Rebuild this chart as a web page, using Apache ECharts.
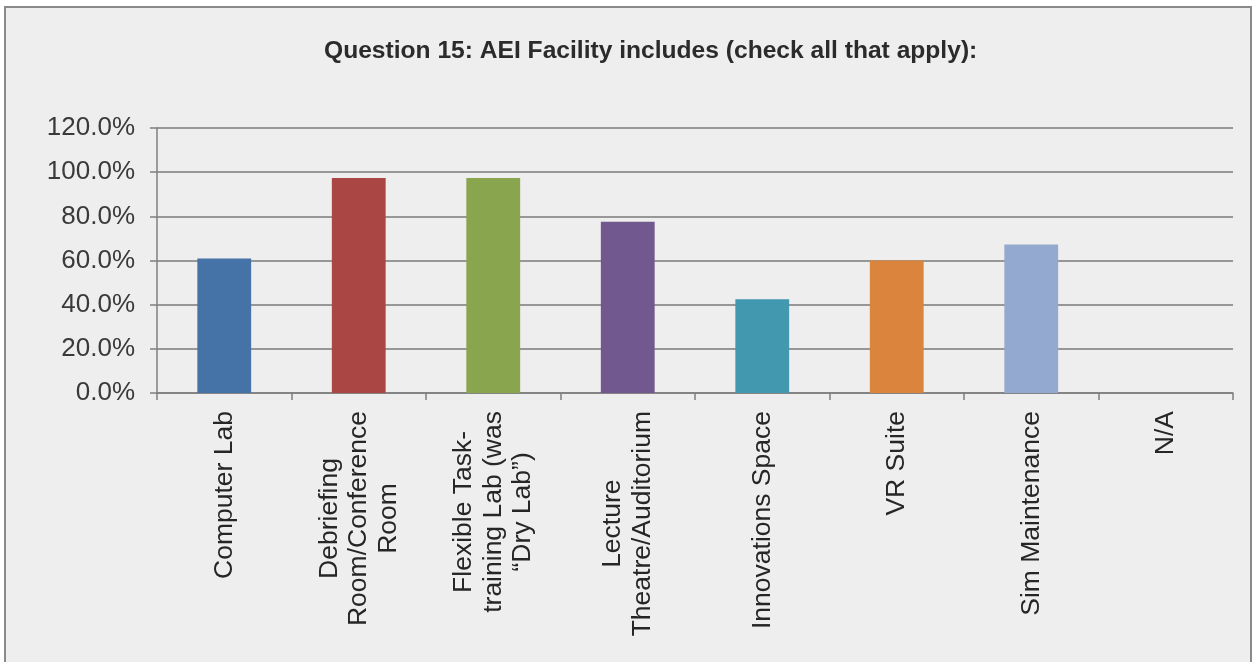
<!DOCTYPE html>
<html>
<head>
<meta charset="utf-8">
<script src="https://cdn.jsdelivr.net/npm/echarts@6/dist/echarts.min.js"></script>
<style>
  html, body { margin: 0; padding: 0; background: #ffffff; }
  #chart { width: 1253px; height: 662px; }
</style>
</head>
<body>
<div id="chart"></div>
<script>
// categories and values
var categories = [
  'Computer Lab',
  'Debriefing\nRoom/Conference\nRoom',
  'Flexible Task-\ntraining Lab (was\n\u201cDry Lab\u201d)',
  'Lecture\nTheatre/Auditorium',
  'Innovations Space',
  'VR Suite',
  'Sim Maintenance',
  'N/A'
];
var values = [60.9, 97.4, 97.4, 77.6, 42.4, 60.0, 67.2, 0];
var barColors = ['#4572A7', '#AA4643', '#89A54E', '#71588F', '#4198AF', '#DB843D', '#93A9CF', '#A47D7C'];
var yTicks = { min: 0, max: 120, interval: 20 };

var myChart = echarts.init(document.getElementById('chart'));

var option = {
  backgroundColor: '#ffffff',
  animation: false,
  textStyle: { fontFamily: 'Liberation Sans, Arial, sans-serif' },
  graphic: [{
    type: 'rect',
    z: -100,
    silent: true,
    shape: { x: 5, y: 7, width: 1246, height: 660 },
    style: { fill: '#eeeeee', stroke: '#8a8a8a', lineWidth: 2 }
  }],
  title: {
    left: 319,
    top: 34,
    text: 'Question 15: AEI Facility includes (check all that apply):',
    textStyle: { fontSize: 24.6, fontWeight: 'bold', color: '#2b2b2b', fontFamily: 'Liberation Sans' }
  },
  grid: { left: 157, right: 20, top: 128, bottom: 269 },
  xAxis: {
    type: 'category',
    data: categories,
    axisLine: { lineStyle: { color: '#7f7f7f', width: 1.5 } },
    axisTick: { show: true, length: 7, lineStyle: { color: '#7f7f7f', width: 1.5 } },
    axisLabel: {
      rotate: 90,
      margin: 18,
      interval: 0,
      color: '#262626',
      fontSize: 26.5,
      lineHeight: 29.5,
      formatter: function (value) {
        return value.split('\n').map(function (s) { return '{c|' + s + '}'; }).join('\n');
      },
      rich: { c: { align: 'center', fontSize: 26.5, lineHeight: 29.5, color: '#262626' } }
    }
  },
  yAxis: {
    type: 'value',
    min: yTicks.min,
    max: yTicks.max,
    interval: yTicks.interval,
    axisLine: { show: true, lineStyle: { color: '#7f7f7f', width: 1.5 } },
    axisTick: { show: true, length: 7, lineStyle: { color: '#7f7f7f', width: 1.5 } },
    splitLine: { lineStyle: { color: '#7a7a7a', width: 1.5 } },
    axisLabel: {
      margin: 22,
      color: '#3a3a3a',
      fontSize: 26,
      formatter: function (v) { return v.toFixed(1) + '%'; }
    }
  },
  series: [{
    type: 'bar',
    data: values,
    barWidth: '40%',
    itemStyle: {
      color: function (params) {
        return barColors[params.dataIndex % barColors.length];
      }
    }
  }]
};

myChart.setOption(option);
</script>
</body>
</html>
